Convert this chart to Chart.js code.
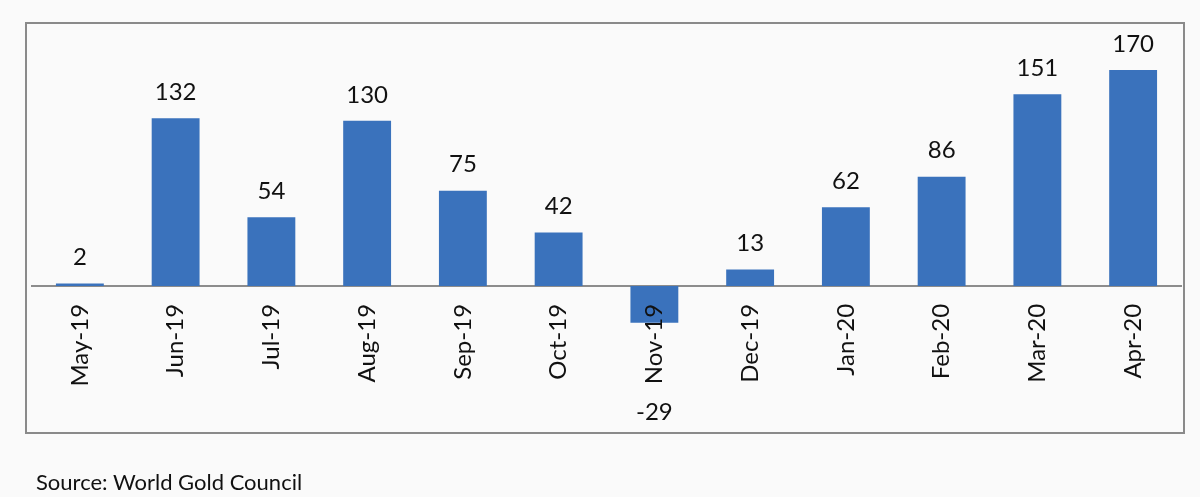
<!DOCTYPE html>
<html>
<head>
<meta charset="utf-8">
<script src="https://cdn.jsdelivr.net/npm/chart.js@4.4.0/dist/chart.umd.min.js"></script>
<style>
  html, body { margin: 0; padding: 0; background: #fafafa; }
  #wrap { position: relative; width: 1200px; height: 497px; }
  #frame { position: absolute; left: 25px; top: 22px; width: 1156px; height: 408px; border: 2px solid #8a8a8a; }
  #chart { position: absolute; left: 0; top: 0; }
  #source { position: absolute; left: 36px; top: 468px; font-family: Lato, "Open Sans", sans-serif; font-size: 22px; color: #111; }
</style>
</head>
<body>
<div id="wrap">
  <div id="frame"></div>
  <canvas id="chart" width="1200" height="497"></canvas>
  <div id="source">Source: World Gold Council</div>
</div>
<script>
const months = ["May-19", "Jun-19", "Jul-19", "Aug-19", "Sep-19", "Oct-19", "Nov-19", "Dec-19", "Jan-20", "Feb-20", "Mar-20", "Apr-20"];
const values = [2, 132, 54, 130, 75, 42, -29, 13, 62, 86, 151, 170];

// value labels above bars (negative ones go below the month labels)
const valueLabels = {
  id: "valueLabels",
  afterDraw(chart) {
    const ctx = chart.ctx;
    const meta = chart.getDatasetMeta(0);
    ctx.save();
    ctx.font = "24px Lato, 'Open Sans', sans-serif";
    ctx.fillStyle = "#111";
    ctx.textAlign = "center";
    ctx.textBaseline = "middle";
    meta.data.forEach((bar, i) => {
      const v = values[i];
      const y = v >= 0 ? bar.y - 26 : bar.base + 126;
      ctx.fillText(String(v), bar.x, y);
    });
    ctx.restore();
  }
};

const ctx = document.getElementById("chart");
const myChart = new Chart(ctx, {
  type: "bar",
  data: {
    labels: months,
    datasets: [{
      data: values,
      backgroundColor: "#3a72bc",
      barPercentage: 0.5,
      categoryPercentage: 1.0
    }]
  },
  options: {
    responsive: false,
    animation: false,
    layout: { padding: { left: 32, right: 19, top: 23, bottom: 65 } },
    plugins: {
      legend: { display: false },
      tooltip: { enabled: false }
    },
    scales: {
      x: {
        position: { y: 0 },
        grid: { display: false, drawTicks: false },
        border: { display: true, color: "#8c8c8c", width: 2 },
        ticks: {
          z: 1,
          minRotation: 90,
          maxRotation: 90,
          padding: 18,
          color: "#111",
          font: { family: "Lato, 'Open Sans', sans-serif", size: 24 }
        }
      },
      y: {
        display: false,
        min: -115,
        max: 207
      }
    }
  },
  plugins: [valueLabels]
});
</script>
</body>
</html>
